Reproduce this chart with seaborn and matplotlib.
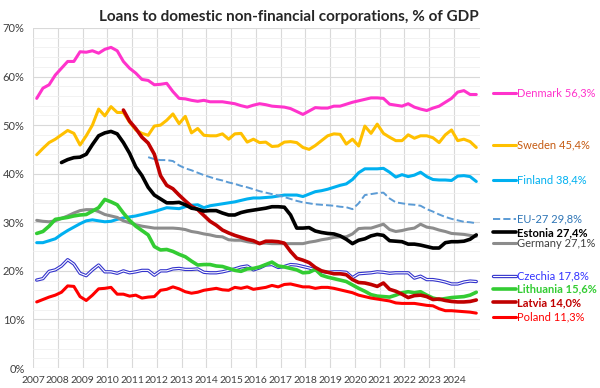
import numpy as np
import pandas as pd
import matplotlib
matplotlib.use("Agg")
import matplotlib.pyplot as plt
import seaborn as sns

nan = np.nan

# quarterly data, 2007Q1 .. 2024Q4 (72 quarters), % of GDP
denmark = [55.5, 57.6, 58.3, 60.3, 61.7, 63.1, 63.1, 65.1, 65.0, 65.3,
           64.8, 65.6, 66.0, 65.3, 63.1, 61.7, 60.7, 59.4, 59.2, 58.3,
           58.4, 58.6, 56.9, 55.5, 55.4, 55.1, 54.9, 55.1, 54.8, 54.8,
           54.8, 54.6, 54.4, 54.0, 53.7, 54.1, 54.4, 54.2, 53.9, 53.8,
           53.7, 53.4, 52.8, 52.2, 52.9, 53.6, 53.5, 53.5, 53.9, 53.9,
           54.3, 54.7, 55.0, 55.3, 55.6, 55.6, 55.5, 54.3, 54.1, 53.9,
           54.4, 53.7, 53.3, 53.0, 53.5, 53.9, 54.7, 55.5, 56.8, 57.1,
           56.3, 56.3]
sweden = [43.9, 45.2, 46.4, 47.1, 48.0, 48.9, 48.3, 45.9, 47.8, 50.0,
          53.3, 51.9, 53.8, 52.6, 52.6, 50.6, 49.0, 48.3, 47.9, 49.8,
          50.0, 51.0, 52.3, 50.3, 51.8, 48.4, 49.3, 47.9, 47.8, 47.8,
          48.2, 47.1, 48.2, 48.3, 46.5, 47.1, 46.4, 46.5, 45.6, 45.7,
          46.5, 46.6, 46.4, 45.4, 45.0, 45.8, 46.8, 47.8, 48.2, 48.1,
          46.1, 47.1, 45.7, 49.8, 48.3, 50.2, 48.3, 47.5, 46.8, 46.8,
          48.0, 47.3, 47.8, 47.8, 47.4, 46.4, 48.0, 49.0, 46.8, 47.1,
          46.6, 45.4]
finland = [25.8, 25.8, 26.2, 26.6, 27.5, 28.3, 29.0, 29.7, 30.3, 30.5,
           30.3, 30.1, 30.2, 30.6, 30.9, 31.1, 31.3, 31.6, 31.9, 32.2,
           32.6, 33.0, 32.9, 32.8, 33.2, 33.5, 33.6, 33.0, 33.4, 33.6,
           33.8, 34.0, 34.2, 34.5, 34.8, 35.0, 35.0, 35.1, 35.2, 35.4,
           35.6, 35.6, 35.6, 35.3, 35.8, 36.3, 36.5, 36.8, 37.2, 37.6,
           37.9, 38.8, 40.2, 41.0, 41.0, 41.0, 41.1, 40.3, 39.3, 39.8,
           39.4, 39.7, 40.3, 39.4, 38.8, 38.7, 38.7, 38.6, 39.5, 39.6,
           39.4, 38.4]
eu27 = [nan] * 18 + [
    43.4, 43.0, 42.8, 42.8, 42.6, 41.7, 41.1, 40.7, 40.2, 39.7,
    39.3, 38.9, 38.6, 38.2, 37.9, 37.5, 37.2, 36.8, 36.4, 36.1,
    35.8, 35.5, 35.2, 34.8, 34.4, 34.1, 33.9, 33.7, 33.6, 33.5,
    33.4, 33.2, 33.1, 32.7, 33.9, 35.6, 35.8, 36.0, 36.1, 34.9,
    34.1, 33.9, 33.7, 33.6, 33.4, 32.7, 32.2, 31.6, 31.1, 30.7,
    30.4, 30.1, 30.0, 29.8]
estonia = [nan] * 4 + [
    42.3, 42.9, 43.3, 43.4, 44.0, 46.0, 47.8, 48.4, 48.7, 48.2,
    46.4, 44.2, 41.4, 39.6, 37.2, 35.6, 34.8, 34.0, 34.0, 34.1,
    33.6, 32.9, 32.7, 32.3, 32.4, 32.4, 31.9, 31.5, 31.5, 32.0,
    32.3, 32.5, 32.7, 32.9, 33.2, 33.2, 33.1, 31.5, 28.8, 28.8,
    28.9, 28.2, 27.9, 27.7, 27.6, 27.2, 26.5, 25.6, 26.3, 26.6,
    27.2, 27.5, 27.3, 26.2, 26.1, 26.0, 25.5, 25.5, 25.3, 25.0,
    24.7, 24.7, 25.8, 26.0, 26.0, 26.1, 26.5, 27.4]
germany = [30.4, 30.2, 30.1, 30.3, 30.8, 31.3, 31.9, 32.4, 32.6, 32.6,
           32.2, 31.6, 31.3, 31.0, 30.3, 29.9, 29.5, 29.2, 29.0, 28.8,
           28.8, 28.8, 28.8, 28.7, 28.5, 28.1, 27.9, 27.6, 27.4, 27.1,
           27.0, 26.4, 26.3, 26.3, 26.0, 25.8, 25.7, 25.7, 25.6, 25.6,
           25.6, 25.6, 25.6, 25.6, 25.9, 26.1, 26.4, 26.6, 26.9, 27.0,
           27.0, 27.6, 28.7, 28.8, 28.8, 29.2, 29.6, 28.5, 28.1, 28.3,
           28.6, 28.8, 29.6, 29.0, 28.8, 28.4, 28.1, 27.7, 27.6, 27.5,
           27.3, 27.1]
czechia = [18.1, 18.4, 19.9, 20.2, 21.0, 22.3, 21.4, 19.5, 19.0, 20.2,
           21.2, 19.8, 19.8, 19.5, 20.0, 19.6, 19.8, 20.1, 20.1, 19.1,
           20.0, 20.0, 20.4, 20.5, 20.3, 20.3, 20.4, 19.7, 19.6, 19.6,
           19.8, 20.1, 20.4, 20.8, 21.0, 20.2, 20.6, 21.2, 21.3, 20.7,
           20.9, 21.3, 21.2, 20.9, 20.6, 20.2, 19.9, 19.7, 19.8, 19.8,
           19.7, 18.6, 19.4, 19.5, 19.6, 19.8, 19.7, 19.5, 19.6, 19.6,
           19.6, 18.5, 18.9, 18.2, 18.2, 18.0, 17.7, 17.3, 17.3, 17.7,
           17.9, 17.8]
lithuania = [27.7, 28.1, 29.2, 30.6, 30.8, 31.0, 31.3, 31.5, 31.6, 32.3,
             33.0, 34.7, 34.2, 33.6, 31.9, 30.4, 29.2, 28.3, 27.4, 25.0,
             24.3, 24.4, 24.0, 23.4, 22.9, 22.0, 21.2, 21.3, 21.3, 21.0,
             20.9, 20.5, 20.1, 19.9, 20.4, 20.5, 20.8, 21.3, 21.8, 21.0,
             20.8, 20.5, 20.2, 19.6, 19.7, 20.3, 19.1, 18.7, 18.4, 18.1,
             17.8, 17.1, 16.4, 15.8, 15.1, 14.8, 14.7, 14.6, 15.0, 15.5,
             15.7, 15.5, 15.7, 15.0, 14.4, 14.1, 14.3, 14.5, 14.6, 14.7,
             15.0, 15.6]
latvia = [nan] * 14 + [
    53.1, 50.8, 49.3, 47.5, 46.3, 44.0, 39.6, 37.6, 36.9, 35.6,
    34.4, 33.3, 32.6, 31.4, 30.2, 29.4, 28.4, 27.8, 27.3, 26.9,
    26.5, 26.2, 25.6, 26.1, 26.1, 26.0, 25.7, 24.0, 22.6, 22.2,
    21.7, 20.7, 20.0, 19.7, 19.4, 19.4, 19.2, 18.2, 17.6, 17.5,
    17.2, 16.8, 17.5, 16.2, 15.8, 15.2, 14.5, 14.9, 15.0, 14.7,
    14.1, 14.2, 13.9, 13.7, 13.6, 13.6, 13.7, 14.0]
poland = [13.6, 14.1, 14.6, 15.0, 15.6, 16.9, 16.8, 14.7, 13.9, 15.0,
          16.3, 16.4, 16.6, 15.2, 15.2, 14.8, 15.0, 14.4, 14.6, 14.7,
          16.0, 16.2, 16.7, 16.3, 15.7, 15.4, 15.6, 16.0, 16.2, 16.4,
          16.1, 16.0, 16.6, 16.4, 16.7, 16.2, 16.4, 16.6, 17.0, 16.7,
          17.2, 17.3, 17.0, 16.7, 16.7, 16.4, 16.6, 16.6, 16.4, 16.1,
          15.8, 15.5, 15.0, 14.7, 14.4, 14.2, 14.0, 13.8, 13.4, 13.3,
          13.3, 13.3, 13.1, 12.9, 12.8, 12.2, 11.8, 11.8, 11.7, 11.6,
          11.5, 11.3]

years = list(range(2007, 2025))
t = 2007.15 + np.arange(72) / 4  # quarter positions on a year axis

# name, data, line colour, width, text colour, bold, label y (in %)
series = [
    ("Denmark", denmark, "#FF33CC", 2.2, "#FF33CC", False, 56.7),
    ("Sweden", sweden, "#FFC000", 2.2, "#C55A11", False, 46.0),
    ("Finland", finland, "#00B0F0", 2.2, "#00B0F0", False, 38.7),
    ("EU-27", eu27, "#5B9BD5", 1.4, "#2E75B6", False, 30.6),
    ("Germany", germany, "#8C8C8C", 2.2, "#404040", False, 25.7),
    ("Czechia", czechia, "#3333CC", 2.4, "#3333FF", False, 18.9),
    ("Lithuania", lithuania, "#33CC33", 2.6, "#33CC33", True, 16.3),
    ("Poland", poland, "#FF0000", 2.2, "#FF0000", False, 10.6),
    ("Latvia", latvia, "#C00000", 2.6, "#C00000", True, 13.5),
    ("Estonia", estonia, "#000000", 2.6, "#000000", True, 27.9),
]

sns.set_style("white")
plt.rcParams["font.family"] = ["Lato", "DejaVu Sans"]

fig = plt.figure(figsize=(6, 3.88), dpi=100)
ax = fig.add_axes([0.055, 0.0515, 0.745, 0.8765])

for name, vals, color, lw, tcolor, bold, ly in series:
    df = pd.DataFrame({"t": t, "v": vals})
    style = "--" if name == "EU-27" else "-"
    sns.lineplot(data=df, x="t", y="v", ax=ax, color=color, lw=lw,
                 linestyle=style, zorder=3)
    if name == "Czechia":
        sns.lineplot(data=df, x="t", y="v", ax=ax, color="white", lw=0.8,
                     zorder=3)
    # right-hand label with short line sample
    ax.plot([2025.58, 2026.5], [ly, ly], color=color, lw=lw,
            linestyle=style, clip_on=False)
    if name == "Czechia":
        ax.plot([2025.58, 2026.5], [ly, ly], color="white", lw=0.8,
                clip_on=False)
    last = [v for v in vals if not np.isnan(v)][-1]
    label = f"{name} {last:.1f}%".replace(".", ",")
    ax.text(2026.53, ly, label, color=tcolor, fontsize=8,
            fontweight="bold" if bold else "normal", va="center",
            ha="left", clip_on=False)

ax.set_xlim(2007, 2025.05)
ax.set_ylim(0, 70)
ax.set_xticks(years)
ax.set_xticklabels([str(y) for y in years])
ax.set_yticks(range(0, 71, 10))
ax.set_yticklabels([f"{v}%" for v in range(0, 71, 10)])
ax.set_yticks(np.arange(0, 71, 2), minor=True)
ax.grid(True, which="major", color="#D9D9D9", lw=0.8)
ax.grid(True, which="minor", axis="y", color="#F0F0F0", lw=0.6)
ax.set_axisbelow(True)
ax.tick_params(axis="both", length=0, labelsize=7.5, colors="#404040")
ax.tick_params(axis="y", pad=6, labelsize=8)
ax.tick_params(axis="x", pad=6)
ax.set_xlabel("")
ax.set_ylabel("")
sns.despine(ax=ax, left=True, bottom=True)

fig.text(0.482, 0.955, "Loans to domestic non-financial corporations, % of GDP",
         ha="center", va="center", fontsize=11, fontweight="bold")

fig.savefig("out.png", dpi=100)
